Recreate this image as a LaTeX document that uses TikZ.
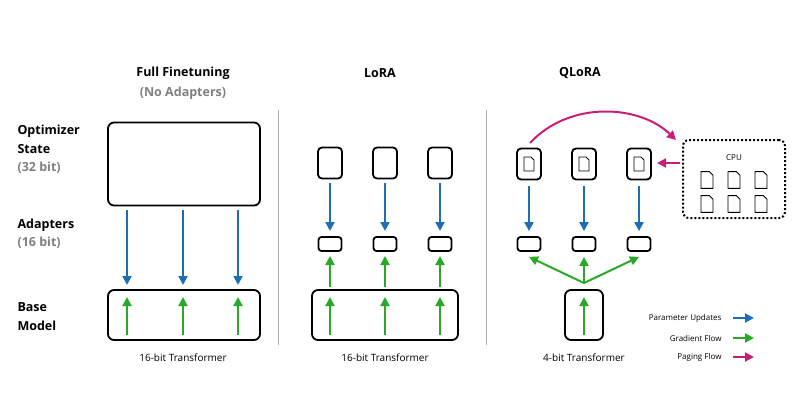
\documentclass[tikz,border=0pt]{standalone}
\usepackage{fontspec}
\setmainfont{Open Sans}
\usetikzlibrary{arrows.meta}
\definecolor{upd}{RGB}{30,110,180}
\definecolor{grd}{RGB}{40,170,40}
\definecolor{pag}{RGB}{200,30,120}
\tikzset{
  blk/.style={draw, line width=1.8pt, rounded corners=6pt},
  sml/.style={draw, line width=1.8pt, rounded corners=3pt, minimum width=23pt, minimum height=14pt},
  opt/.style={draw, line width=1.8pt, rounded corners=4pt, minimum width=24pt, minimum height=31pt},
  up/.style={upd, line width=2pt, -{Triangle[length=9pt,width=9pt]}},
  gr/.style={grd, line width=2pt, -{Triangle[length=9pt,width=9pt]}},
  pg/.style={pag, line width=2pt, -{Triangle[length=9pt,width=9pt]}},
  ttl/.style={font=\bfseries\fontsize{12.5}{14}\selectfont},
  side/.style={font=\bfseries\fontsize{12.5}{14}\selectfont, anchor=west},
  capt/.style={font=\fontsize{10}{12}\selectfont},
  leg/.style={font=\fontsize{8}{10}\selectfont, anchor=east},
}
\newcommand{\docicon}[3]{% center x, center y, scale
  \draw[line width=0.9pt, line join=round] (#1-5*#3,#2-7*#3) -- (#1+2*#3,#2-7*#3) -- (#1+5*#3,#2-4*#3) -- (#1+5*#3,#2+7*#3) -- (#1-5*#3,#2+7*#3) -- cycle;
}
\begin{document}
\begin{tikzpicture}[x=1pt,y=-1pt]
\useasboundingbox (0,0) rectangle (800,420);
% titles
\node[ttl] (tff) at (183,73) {Full Finetuning};
\node[ttl, gray] (tna) at (183,93) {(No Adapters)};
\node[ttl] (tlo) at (380,73) {LoRA};
\node[ttl] (tql) at (580,73) {QLoRA};
% row labels
\node[side] (l1) at (14,131) {Optimizer};
\node[side] (l2) at (14,149) {State};
\node[side, gray] (l3) at (14,168) {(32 bit)};
\node[side] (l4) at (14,225) {Adapters};
\node[side, gray] (l5) at (14,243) {(16 bit)};
\node[side] (l6) at (14,307) {Base};
\node[side] (l7) at (14,326) {Model};
% dividers
\draw[gray!60, line width=0.8pt] (278,110) -- (278,345);
\draw[gray!60, line width=0.8pt] (486,110) -- (486,345);
% full finetuning
\node[blk, minimum width=152pt, minimum height=83pt] (fopt) at (184,164) {};
\node[blk, minimum width=152pt, minimum height=50pt] (fbase) at (184,315) {};
\foreach \x in {127,183,238} {
  \draw[up] (\x,210) -- (\x,285);
  \draw[gr] (\x,335) -- (\x,297);
}
\node[capt] (cff) at (183,358) {16-bit Transformer};
% lora
\node[blk, minimum width=146pt, minimum height=50pt] (lbase) at (385,315) {};
\foreach \x in {330,385,440} {
  \node[opt] at (\x,163) {};
  \node[sml] at (\x,244) {};
  \draw[up] (\x,183) -- (\x,231);
  \draw[gr] (\x,287) -- (\x,256);
  \draw[gr] (\x,335) -- (\x,297);
}
\node[capt] (clo) at (385,358) {16-bit Transformer};
% qlora
\node[blk, minimum width=38pt, minimum height=50pt] (qbase) at (584,315) {};
\draw[gr] (584,335) -- (584,297);
\coordinate (qsplit) at (584,283);
\foreach \x/\n in {529/a,584/b,639/c} {
  \node[opt] (qo\n) at (\x,164) {};
  \docicon{\x}{164}{1}
  \node[sml] (qa\n) at (\x,244) {};
  \draw[up] (qo\n.south) ++(0,6) -- ([yshift=5pt]qa\n.north);
  \draw[gr] (qsplit) -- ([yshift=-5pt]qa\n.south);
}
\node[capt] (cql) at (584,358) {4-bit Transformer};
% cpu
\node[draw, line width=2pt, dotted, rounded corners=6pt, minimum width=102pt, minimum height=78pt] (cpu) at (734,179) {};
\node[font=\fontsize{8}{10}\selectfont] (cpul) at (734,158) {CPU};
\foreach \x in {707,734,761} \foreach \y in {180,204} { \docicon{\x}{\y}{1.2} }
\coordinate (pgs) at (530,143);
\coordinate (pge) at (676,140);
\coordinate (pbs) at (680,163);
\coordinate (pbe) at (657,163);
\draw[pg] (pgs) .. controls (570,100) and (640,105) .. (pge);
\draw[pg] (pbs) -- (pbe);
% legend
\node[leg] (g1) at (725,318) {Parameter Updates};
\node[leg] (g2) at (725,338) {Gradient Flow};
\node[leg] (g3) at (725,357) {Paging Flow};
\draw[up] (733,318) -- (754,318);
\draw[gr] (733,338) -- (754,338);
\draw[pg] (733,357) -- (754,357);
\end{tikzpicture}
\end{document}
